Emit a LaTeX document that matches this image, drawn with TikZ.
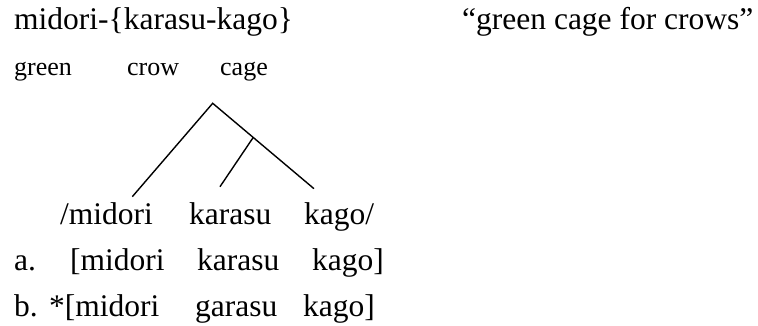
\documentclass[tikz,border=0pt]{standalone}
\usepackage{fontspec}
\setmainfont{Liberation Serif}
\usetikzlibrary{calc}
\begin{document}
\begin{tikzpicture}[x=1pt,y=1pt,
  big/.style={anchor=base west,inner sep=0pt,font=\fontsize{31.5}{36}\selectfont},
  gloss/.style={anchor=base west,inner sep=0pt,font=\fontsize{26}{30}\selectfont},
  branch/.style={line width=1.4pt}]
\useasboundingbox (0,0) rectangle (758,326);
% row 1
\node[big] (form) at (14,296) {midori-\{karasu-kago\}};
\node[big] (trans) at (462,296) {“green cage for crows”};
% row 2
\node[gloss] (g1) at (14,250) {green};
\node[gloss] (g2) at (127,250) {crow};
\node[gloss] (g3) at (220,250) {cage};
% tree
\coordinate (apex) at (212.7,222.7);
\coordinate (lleaf) at (132.3,129.3);
\coordinate (rleaf) at (314,137.3);
\coordinate (mleaf) at (220,139.3);
\coordinate (junc) at ($(apex)!0.4!(rleaf)$);
\draw[branch] (lleaf) -- (apex) -- (rleaf);
\draw[branch] (junc) -- (mleaf);
% row 4
\node[big] (u1) at (60,101) {/midori};
\node[big] (u2) at (189,101) {karasu};
\node[big] (u3) at (304,101) {kago/};
% row 5
\node[big] (a0) at (14,55) {a.};
\node[big] (a1) at (70,55) {[midori};
\node[big] (a2) at (197,55) {karasu};
\node[big] (a3) at (312,55) {kago]};
% row 6
\node[big] (b0) at (14,9) {b.};
\node[big] (b1) at (49,9) {*[midori};
\node[big] (b2) at (195,9) {garasu};
\node[big] (b3) at (303,9) {kago]};
\end{tikzpicture}
\end{document}
